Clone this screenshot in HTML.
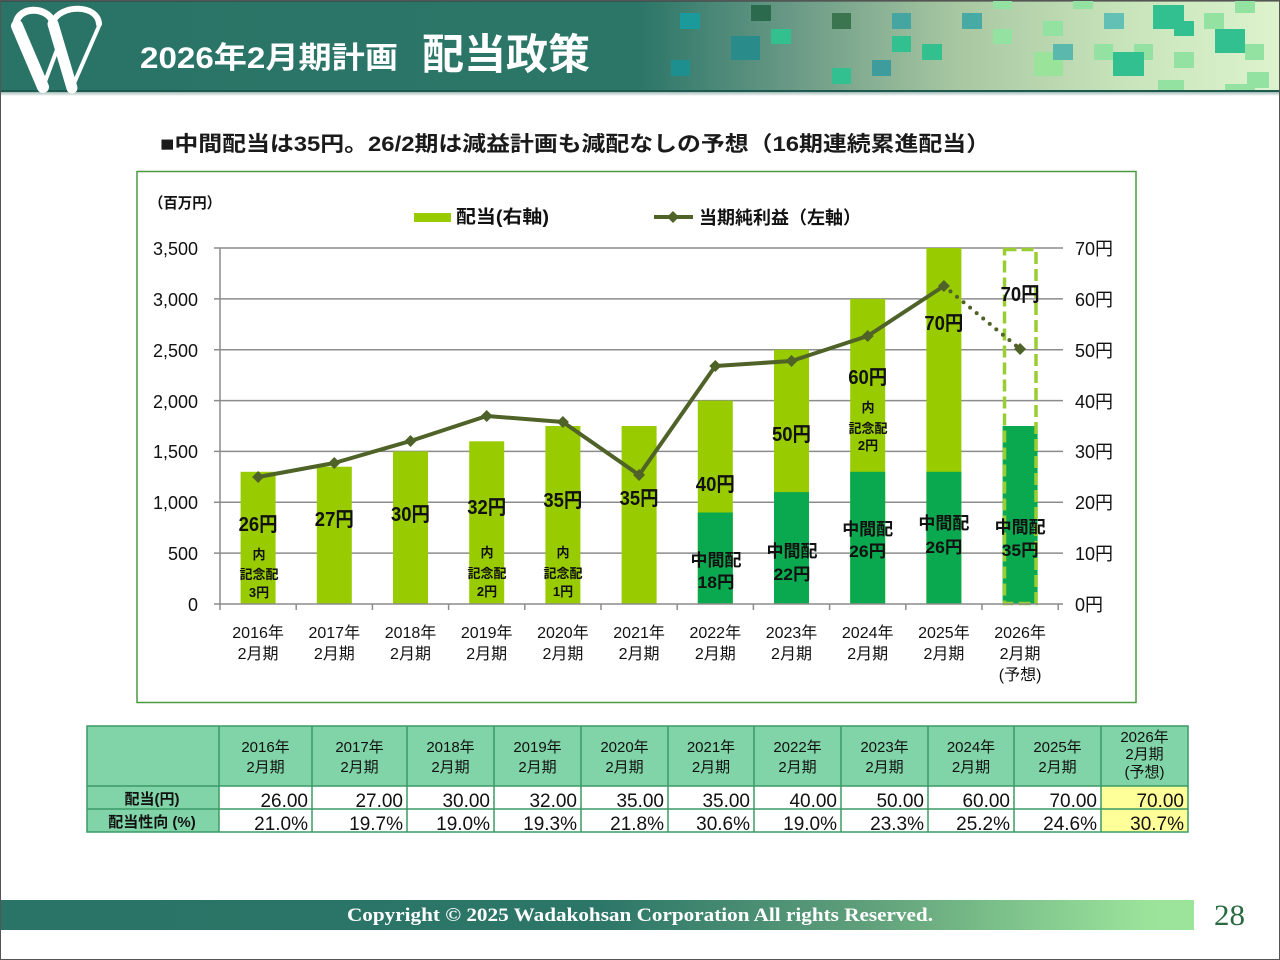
<!DOCTYPE html>
<html><head><meta charset="utf-8"><style>
html,body{margin:0;padding:0;background:#fff;}
svg{display:block;}
text{font-family:"Liberation Sans","Noto Sans CJK JP",sans-serif;}
.s{font-family:"Liberation Serif","Noto Serif CJK SC",serif;}
</style></head><body>
<svg width="1280" height="960" viewBox="0 0 1280 960" xmlns="http://www.w3.org/2000/svg">
<defs>
<linearGradient id="hg" x1="0" y1="0" x2="1280" y2="0" gradientUnits="userSpaceOnUse">
<stop offset="0" stop-color="#2a7467"/><stop offset="0.5" stop-color="#2c7668"/>
<stop offset="0.62" stop-color="#6a9a86"/><stop offset="0.75" stop-color="#a9c8a2"/>
<stop offset="0.88" stop-color="#c8e4bb"/><stop offset="1" stop-color="#ddf3cd"/>
</linearGradient>
<linearGradient id="fg" x1="0" y1="0" x2="1194" y2="0" gradientUnits="userSpaceOnUse">
<stop offset="0" stop-color="#2a7467"/><stop offset="0.5" stop-color="#2c7668"/>
<stop offset="0.72" stop-color="#5e9e7a"/><stop offset="0.96" stop-color="#9be39b"/><stop offset="1" stop-color="#9de49b"/>
</linearGradient>
<linearGradient id="sh" x1="0" y1="0" x2="0" y2="1">
<stop offset="0" stop-color="#9fb8b4"/><stop offset="1" stop-color="#ffffff"/>
</linearGradient>
</defs>
<rect x="0" y="0" width="1280" height="960" fill="#fff"/>
<!-- header -->
<rect x="0" y="0" width="1280" height="91" fill="url(#hg)"/>
<rect x="0" y="0" width="1280" height="1.5" fill="#3a3a3a"/>
<g>
<rect x="680" y="13" width="20" height="16" fill="#1b9a9c"/>
<rect x="751" y="5" width="20" height="16" fill="#2b6a4c"/>
<rect x="731" y="36" width="29" height="24" fill="#2a8c8a"/>
<rect x="771" y="29" width="20" height="15" fill="#33c08f"/>
<rect x="671" y="60" width="19" height="16" fill="#1d8f8f"/>
<rect x="832" y="13" width="19" height="16" fill="#3a7550"/>
<rect x="832" y="68" width="19" height="16" fill="#33c090"/>
<rect x="892" y="13" width="19" height="16" fill="#45a5a0"/>
<rect x="892" y="36" width="19" height="16" fill="#33c090"/>
<rect x="872" y="60" width="19" height="16" fill="#3e9c9c"/>
<rect x="922" y="44" width="20" height="16" fill="#33c08f"/>
<rect x="962" y="13" width="20" height="16" fill="#48aaa4"/>
<rect x="993" y="0" width="19" height="9" fill="#93e2a2"/>
<rect x="993" y="29" width="19" height="15" fill="#93e2a2"/>
<rect x="1043" y="21" width="20" height="15" fill="#93e2a2"/>
<rect x="1034" y="52" width="29" height="24" fill="#9ae39a"/>
<rect x="1053" y="44" width="20" height="16" fill="#5ab8ac"/>
<rect x="1073" y="0" width="20" height="9" fill="#93e2a2"/>
<rect x="1094" y="44" width="19" height="16" fill="#93e2a2"/>
<rect x="1104" y="13" width="20" height="16" fill="#62c0b4"/>
<rect x="1134" y="44" width="19" height="16" fill="#93e2a2"/>
<rect x="1113" y="52" width="31" height="24" fill="#33c090"/>
<rect x="1153" y="5" width="31" height="24" fill="#33c090"/>
<rect x="1174" y="21" width="20" height="15" fill="#33c090"/>
<rect x="1158" y="80" width="26" height="11" fill="#93e2a2"/>
<rect x="1174" y="52" width="20" height="16" fill="#93e2a2"/>
<rect x="1204" y="13" width="20" height="16" fill="#93e2a2"/>
<rect x="1215" y="29" width="30" height="24" fill="#33c090"/>
<rect x="1235" y="0" width="20" height="13" fill="#93e2a2"/>
<rect x="1245" y="44" width="19" height="16" fill="#93e2a2"/>
<rect x="1225" y="84" width="30" height="7" fill="#93e2a2"/>
<rect x="1247" y="72" width="22" height="16" fill="#93e2a2"/>
</g>
<rect x="0" y="90" width="1280" height="2" fill="#1f5a50"/>
<rect x="0" y="92" width="1280" height="4" fill="url(#sh)"/>
<!-- logo -->
<g fill="none" stroke="#fff" stroke-linecap="round">
<path d="M53,22 C47,6 18,6 16,24" stroke-width="7"/>
<path d="M17,26 L43,87" stroke-width="12"/>
<path d="M43,87 L58,47" stroke-width="4"/>
<path d="M53,22 C60,4 98,4 99,24" stroke-width="6"/>
<path d="M53,24 L72,88" stroke-width="11"/>
<path d="M72,88 L99,26" stroke-width="4"/>
</g>
<text x="140" y="68" font-size="30" font-weight="bold" fill="#fff" textLength="258" lengthAdjust="spacingAndGlyphs">2026年2月期計画</text>
<text x="422" y="69" font-size="42" font-weight="bold" fill="#fff" textLength="168" lengthAdjust="spacingAndGlyphs">配当政策</text>
<!-- subtitle -->
<text x="160" y="151" font-size="21" font-weight="bold" fill="#1a1a1a" textLength="830" lengthAdjust="spacingAndGlyphs">■中間配当は35円。26/2期は減益計画も減配なしの予想（16期連続累進配当）</text>
<!-- chart frame -->
<rect x="137" y="171.5" width="999" height="531" fill="#fff" stroke="#4a9a40" stroke-width="1.5"/>
<text x="149" y="208" font-size="15" font-weight="bold" fill="#111" textLength="72" lengthAdjust="spacingAndGlyphs">（百万円）</text>
<rect x="414" y="213" width="37" height="9" fill="#99cc00"/>
<text x="456" y="223" font-size="18" font-weight="bold" fill="#111" textLength="93" lengthAdjust="spacingAndGlyphs">配当(右軸)</text>
<line x1="654" y1="217" x2="693" y2="217" stroke="#4f6228" stroke-width="4"/>
<path d="M673,211 L679,217 L673,223 L667,217 Z" fill="#4f6228"/>
<text x="699" y="224" font-size="18" font-weight="bold" fill="#111" textLength="162" lengthAdjust="spacingAndGlyphs">当期純利益（左軸）</text>
<!-- gridlines -->
<g stroke="#8c8c8c" stroke-width="1.5">
<line x1="214" y1="248" x2="1063" y2="248"/>
<line x1="214" y1="298.9" x2="1063" y2="298.9"/>
<line x1="214" y1="349.7" x2="1063" y2="349.7"/>
<line x1="214" y1="400.6" x2="1063" y2="400.6"/>
<line x1="214" y1="451.4" x2="1063" y2="451.4"/>
<line x1="214" y1="502.3" x2="1063" y2="502.3"/>
<line x1="214" y1="553.1" x2="1063" y2="553.1"/>
<line x1="220" y1="248" x2="220" y2="604"/>
</g>
<!-- bars light -->
<g fill="#99cc00">
<rect x="240.6" y="471.8" width="35" height="132.2"/>
<rect x="316.8" y="466.7" width="35" height="137.3"/>
<rect x="393.0" y="451.4" width="35" height="152.6"/>
<rect x="469.2" y="441.3" width="35" height="162.7"/>
<rect x="545.4" y="426" width="35" height="178"/>
<rect x="621.6" y="426" width="35" height="178"/>
<rect x="697.8" y="400.6" width="35" height="203.4"/>
<rect x="774.0" y="349.7" width="35" height="254.3"/>
<rect x="850.2" y="298.9" width="35" height="305.1"/>
<rect x="926.4" y="248" width="35" height="356"/>
</g>
<g fill="#0aa84f">
<rect x="697.8" y="512.5" width="35" height="91.5"/>
<rect x="774.0" y="492.1" width="35" height="111.9"/>
<rect x="850.2" y="471.8" width="35" height="132.2"/>
<rect x="926.4" y="471.8" width="35" height="132.2"/>
<rect x="1002.6" y="426" width="35" height="178"/>
</g>
<rect x="1004.5" y="249.5" width="31.5" height="354" fill="none" stroke="#9acd32" stroke-width="3.5" stroke-dasharray="12 5"/>
<!-- bottom axis -->
<g stroke="#8c8c8c" stroke-width="1.5">
<line x1="214" y1="604" x2="1063" y2="604"/>
<line x1="220" y1="604" x2="220" y2="610"/>
<line x1="296.2" y1="604" x2="296.2" y2="610"/>
<line x1="372.4" y1="604" x2="372.4" y2="610"/>
<line x1="448.6" y1="604" x2="448.6" y2="610"/>
<line x1="524.8" y1="604" x2="524.8" y2="610"/>
<line x1="601" y1="604" x2="601" y2="610"/>
<line x1="677.2" y1="604" x2="677.2" y2="610"/>
<line x1="753.4" y1="604" x2="753.4" y2="610"/>
<line x1="829.6" y1="604" x2="829.6" y2="610"/>
<line x1="905.8" y1="604" x2="905.8" y2="610"/>
<line x1="982" y1="604" x2="982" y2="610"/>
<line x1="1058.2" y1="604" x2="1058.2" y2="610"/>
</g>
<!-- line series -->
<polyline points="258.1,477 334.3,463 410.5,441 486.7,416 562.9,422 639.1,475 715.3,366 791.5,361 867.7,336 943.9,286" fill="none" stroke="#4f6228" stroke-width="4" stroke-linejoin="round"/>
<line x1="943.9" y1="286" x2="1020.1" y2="349" stroke="#4f6228" stroke-width="4" stroke-linecap="round" stroke-dasharray="0 8.5"/>
<g fill="#4f6228">
<path d="M258.1,471 l6,6 l-6,6 l-6,-6 Z"/>
<path d="M334.3,457 l6,6 l-6,6 l-6,-6 Z"/>
<path d="M410.5,435 l6,6 l-6,6 l-6,-6 Z"/>
<path d="M486.7,410 l6,6 l-6,6 l-6,-6 Z"/>
<path d="M562.9,416 l6,6 l-6,6 l-6,-6 Z"/>
<path d="M639.1,469 l6,6 l-6,6 l-6,-6 Z"/>
<path d="M715.3,360 l6,6 l-6,6 l-6,-6 Z"/>
<path d="M791.5,355 l6,6 l-6,6 l-6,-6 Z"/>
<path d="M867.7,330 l6,6 l-6,6 l-6,-6 Z"/>
<path d="M943.9,280 l6,6 l-6,6 l-6,-6 Z"/>
<path d="M1020.1,343 l6,6 l-6,6 l-6,-6 Z"/>
</g>
<!-- axis labels -->
<g font-size="18" fill="#111" text-anchor="end">
<text x="198" y="255">3,500</text>
<text x="198" y="306">3,000</text>
<text x="198" y="357">2,500</text>
<text x="198" y="408">2,000</text>
<text x="198" y="458">1,500</text>
<text x="198" y="509">1,000</text>
<text x="198" y="560">500</text>
<text x="198" y="611">0</text>
</g>
<g font-size="18" fill="#111">
<text x="1075" y="255">70円</text>
<text x="1075" y="306">60円</text>
<text x="1075" y="357">50円</text>
<text x="1075" y="408">40円</text>
<text x="1075" y="458">30円</text>
<text x="1075" y="509">20円</text>
<text x="1075" y="560">10円</text>
<text x="1075" y="611">0円</text>
</g>
<g font-size="16" fill="#111" text-anchor="middle">
<text x="258.1" y="638">2016年</text><text x="258.1" y="659">2月期</text>
<text x="334.3" y="638">2017年</text><text x="334.3" y="659">2月期</text>
<text x="410.5" y="638">2018年</text><text x="410.5" y="659">2月期</text>
<text x="486.7" y="638">2019年</text><text x="486.7" y="659">2月期</text>
<text x="562.9" y="638">2020年</text><text x="562.9" y="659">2月期</text>
<text x="639.1" y="638">2021年</text><text x="639.1" y="659">2月期</text>
<text x="715.3" y="638">2022年</text><text x="715.3" y="659">2月期</text>
<text x="791.5" y="638">2023年</text><text x="791.5" y="659">2月期</text>
<text x="867.7" y="638">2024年</text><text x="867.7" y="659">2月期</text>
<text x="943.9" y="638">2025年</text><text x="943.9" y="659">2月期</text>
<text x="1020.1" y="638">2026年</text><text x="1020.1" y="659">2月期</text><text x="1020.1" y="680">(予想)</text>
</g>
<!-- bar labels -->
<g font-size="20" font-weight="bold" fill="#111" text-anchor="middle">
<text x="258.1" y="531" textLength="39" lengthAdjust="spacingAndGlyphs">26円</text>
<text x="334.3" y="526" textLength="39" lengthAdjust="spacingAndGlyphs">27円</text>
<text x="410.5" y="521" textLength="39" lengthAdjust="spacingAndGlyphs">30円</text>
<text x="486.7" y="514" textLength="39" lengthAdjust="spacingAndGlyphs">32円</text>
<text x="562.9" y="507" textLength="39" lengthAdjust="spacingAndGlyphs">35円</text>
<text x="639.1" y="505" textLength="39" lengthAdjust="spacingAndGlyphs">35円</text>
<text x="715.3" y="491" textLength="39" lengthAdjust="spacingAndGlyphs">40円</text>
<text x="791.5" y="441" textLength="39" lengthAdjust="spacingAndGlyphs">50円</text>
<text x="867.7" y="384" textLength="39" lengthAdjust="spacingAndGlyphs">60円</text>
<text x="943.9" y="330" textLength="39" lengthAdjust="spacingAndGlyphs">70円</text>
<text x="1020.1" y="301" textLength="39" lengthAdjust="spacingAndGlyphs">70円</text>
</g>
<g font-size="17" font-weight="bold" fill="#111" text-anchor="middle">
<text x="716" y="566">中間配</text><text x="716" y="588" textLength="37" lengthAdjust="spacingAndGlyphs">18円</text>
<text x="792" y="557">中間配</text><text x="792" y="580" textLength="37" lengthAdjust="spacingAndGlyphs">22円</text>
<text x="867.7" y="535">中間配</text><text x="867.7" y="557" textLength="37" lengthAdjust="spacingAndGlyphs">26円</text>
<text x="943.9" y="529">中間配</text><text x="943.9" y="553" textLength="37" lengthAdjust="spacingAndGlyphs">26円</text>
<text x="1020.1" y="533">中間配</text><text x="1020.1" y="556" textLength="37" lengthAdjust="spacingAndGlyphs">35円</text>
</g>
<g font-size="13" font-weight="bold" fill="#111" text-anchor="middle">
<text x="259" y="559">内</text><text x="259" y="579">記念配</text><text x="259" y="597">3円</text>
<text x="487" y="557">内</text><text x="487" y="578">記念配</text><text x="487" y="596">2円</text>
<text x="563" y="557">内</text><text x="563" y="578">記念配</text><text x="563" y="596">1円</text>
<text x="868" y="412">内</text><text x="868" y="433">記念配</text><text x="868" y="450">2円</text>
</g>
<!-- table -->
<rect x="87" y="726" width="1101" height="60" fill="#80d4a8"/>
<rect x="87" y="786" width="132" height="46" fill="#80d4a8"/>
<rect x="1101" y="786" width="87" height="46" fill="#ffff99"/>
<g stroke="#3a9a66" stroke-width="1.5" fill="none">
<rect x="87" y="726" width="1101" height="106"/>
<line x1="87" y1="786" x2="1188" y2="786"/>
<line x1="87" y1="809" x2="1188" y2="809"/>
<line x1="219" y1="726" x2="219" y2="832"/>
<line x1="312" y1="726" x2="312" y2="832"/>
<line x1="407" y1="726" x2="407" y2="832"/>
<line x1="494" y1="726" x2="494" y2="832"/>
<line x1="581" y1="726" x2="581" y2="832"/>
<line x1="668" y1="726" x2="668" y2="832"/>
<line x1="754" y1="726" x2="754" y2="832"/>
<line x1="841" y1="726" x2="841" y2="832"/>
<line x1="928" y1="726" x2="928" y2="832"/>
<line x1="1014" y1="726" x2="1014" y2="832"/>
<line x1="1101" y1="726" x2="1101" y2="832"/>
</g>
<g font-size="15" fill="#111" text-anchor="middle">
<text x="265.5" y="752">2016年</text><text x="265.5" y="772">2月期</text>
<text x="359.5" y="752">2017年</text><text x="359.5" y="772">2月期</text>
<text x="450.5" y="752">2018年</text><text x="450.5" y="772">2月期</text>
<text x="537.5" y="752">2019年</text><text x="537.5" y="772">2月期</text>
<text x="624.5" y="752">2020年</text><text x="624.5" y="772">2月期</text>
<text x="711" y="752">2021年</text><text x="711" y="772">2月期</text>
<text x="797.5" y="752">2022年</text><text x="797.5" y="772">2月期</text>
<text x="884.5" y="752">2023年</text><text x="884.5" y="772">2月期</text>
<text x="971" y="752">2024年</text><text x="971" y="772">2月期</text>
<text x="1057.5" y="752">2025年</text><text x="1057.5" y="772">2月期</text>
<text x="1144.5" y="742">2026年</text><text x="1144.5" y="759">2月期</text><text x="1144.5" y="777">(予想)</text>
</g>
<g font-size="15" font-weight="bold" fill="#111" text-anchor="middle">
<text x="152" y="804">配当(円)</text>
<text x="152" y="827">配当性向 (%)</text>
</g>
<g font-size="19" fill="#111" text-anchor="end">
<text x="308" y="807">26.00</text><text x="308" y="830">21.0%</text>
<text x="403" y="807">27.00</text><text x="403" y="830">19.7%</text>
<text x="490" y="807">30.00</text><text x="490" y="830">19.0%</text>
<text x="577" y="807">32.00</text><text x="577" y="830">19.3%</text>
<text x="664" y="807">35.00</text><text x="664" y="830">21.8%</text>
<text x="750" y="807">35.00</text><text x="750" y="830">30.6%</text>
<text x="837" y="807">40.00</text><text x="837" y="830">19.0%</text>
<text x="924" y="807">50.00</text><text x="924" y="830">23.3%</text>
<text x="1010" y="807">60.00</text><text x="1010" y="830">25.2%</text>
<text x="1097" y="807">70.00</text><text x="1097" y="830">24.6%</text>
<text x="1184" y="807">70.00</text><text x="1184" y="830">30.7%</text>
</g>
<!-- footer -->
<rect x="0" y="900" width="1194" height="30" fill="url(#fg)"/>
<text class="s" x="347" y="921" font-size="19" font-weight="bold" fill="#fff" textLength="586" lengthAdjust="spacingAndGlyphs">Copyright © 2025  Wadakohsan Corporation All rights Reserved.</text>
<text class="s" x="1214" y="925" font-size="30" fill="#2a6a40" textLength="31" lengthAdjust="spacingAndGlyphs">28</text>
<rect x="0.5" y="0.5" width="1279" height="959" fill="none" stroke="#555" stroke-width="1"/>
</svg>
</body></html>
